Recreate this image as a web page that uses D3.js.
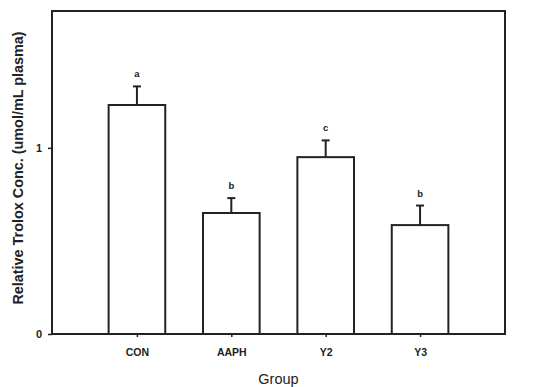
<!DOCTYPE html>
<html>
<head>
<meta charset="utf-8">
<script src="https://cdn.jsdelivr.net/npm/d3@7"></script>
<style>
  body { margin: 0; background: #fff; }
  text { font-family: "Liberation Sans", Arial, sans-serif; fill: #222; }
</style>
</head>
<body>
<div id="container"></div>
<script>
/* DATA */
const groups = ["CON", "AAPH", "Y2", "Y3"];
const means = [1.23, 0.65, 0.95, 0.585];
const errors = [0.10, 0.08, 0.09, 0.105];
const letters = ["a", "b", "c", "b"];
const yTicks = [0, 1];

/* CONSTANTS */
const width = 534, height = 387;
const margin = {top: 11, right: 29, bottom: 53, left: 52};

const svg = d3.select("#container")
  .append("svg")
  .attr("width", width)
  .attr("height", height)

/* SCALES */
const xScale = d3.scaleLinear()
  .domain([0.1, 4.9])
  .range([margin.left, width - margin.right])

const yScale = d3.scaleLinear()
  .domain([0, 1.735])
  .range([height - margin.bottom, margin.top])

const barW = xScale(0.6) - xScale(0)

// frame
svg.append("rect")
  .attr("x", margin.left)
  .attr("y", margin.top)
  .attr("width", width - margin.right - margin.left)
  .attr("height", height - margin.bottom - margin.top)
  .attr("fill", "none")
  .attr("stroke", "#222")
  .attr("stroke-width", 2)

// axes
const yAxis = d3.axisLeft(yScale).tickValues(yTicks).tickSize(4).tickPadding(6).tickFormat(d3.format("d"))
svg.append("g")
  .attr("transform", `translate(${margin.left},0)`)
  .call(yAxis)
  .call(g => g.select(".domain").remove())
  .call(g => g.selectAll("line").attr("stroke", "#222").attr("stroke-width", 1.5))
  .call(g => g.selectAll("text").style("font-size", "11px").style("font-weight", "bold"))

const xAxis = d3.axisBottom(xScale)
  .tickValues(groups.map((d, i) => i + 1))
  .tickFormat((d, i) => groups[i])
  .tickSize(3)
  .tickPadding(12)
svg.append("g")
  .attr("transform", `translate(0,${height - margin.bottom})`)
  .call(xAxis)
  .call(g => g.select(".domain").remove())
  .call(g => g.selectAll("line").attr("stroke", "#222").attr("stroke-width", 1.5))
  .call(g => g.selectAll("text").style("font-size", "10.5px").style("font-weight", "bold"))

// bars
svg.selectAll("rect.bar")
  .data(means)
  .join("rect")
  .attr("class", "bar")
  .attr("x", (d, i) => xScale(i + 1) - barW / 2)
  .attr("y", d => yScale(d))
  .attr("width", barW)
  .attr("height", d => yScale(0) - yScale(d))
  .attr("fill", "#fff")
  .attr("stroke", "#222")
  .attr("stroke-width", 2)

// error bars
svg.selectAll("line.err")
  .data(means)
  .join("line")
  .attr("class", "err")
  .attr("x1", (d, i) => xScale(i + 1))
  .attr("x2", (d, i) => xScale(i + 1))
  .attr("y1", d => yScale(d))
  .attr("y2", (d, i) => yScale(d + errors[i]))
  .attr("stroke", "#222")
  .attr("stroke-width", 2)

svg.selectAll("line.cap")
  .data(means)
  .join("line")
  .attr("class", "cap")
  .attr("x1", (d, i) => xScale(i + 1) - 4)
  .attr("x2", (d, i) => xScale(i + 1) + 4)
  .attr("y1", (d, i) => yScale(d + errors[i]))
  .attr("y2", (d, i) => yScale(d + errors[i]))
  .attr("stroke", "#222")
  .attr("stroke-width", 2)

// significance letters
svg.selectAll("text.sig")
  .data(means)
  .join("text")
  .attr("class", "sig")
  .attr("x", (d, i) => xScale(i + 1))
  .attr("y", (d, i) => yScale(d + errors[i]) - 9)
  .attr("text-anchor", "middle")
  .style("font-size", "9.5px")
  .style("font-weight", "bold")
  .text((d, i) => letters[i])

// axis titles
svg.append("text")
  .attr("x", (margin.left + width - margin.right) / 2)
  .attr("y", 384)
  .attr("text-anchor", "middle")
  .style("font-size", "14.5px")
  .text("Group")

svg.append("text")
  .attr("transform", `translate(23, ${(32 + 304) / 2}) rotate(-90)`)
  .attr("text-anchor", "middle")
  .style("font-size", "14.4px")
  .style("font-weight", "bold")
  .text("Relative Trolox Conc. (umol/mL plasma)")
</script>
</body>
</html>
